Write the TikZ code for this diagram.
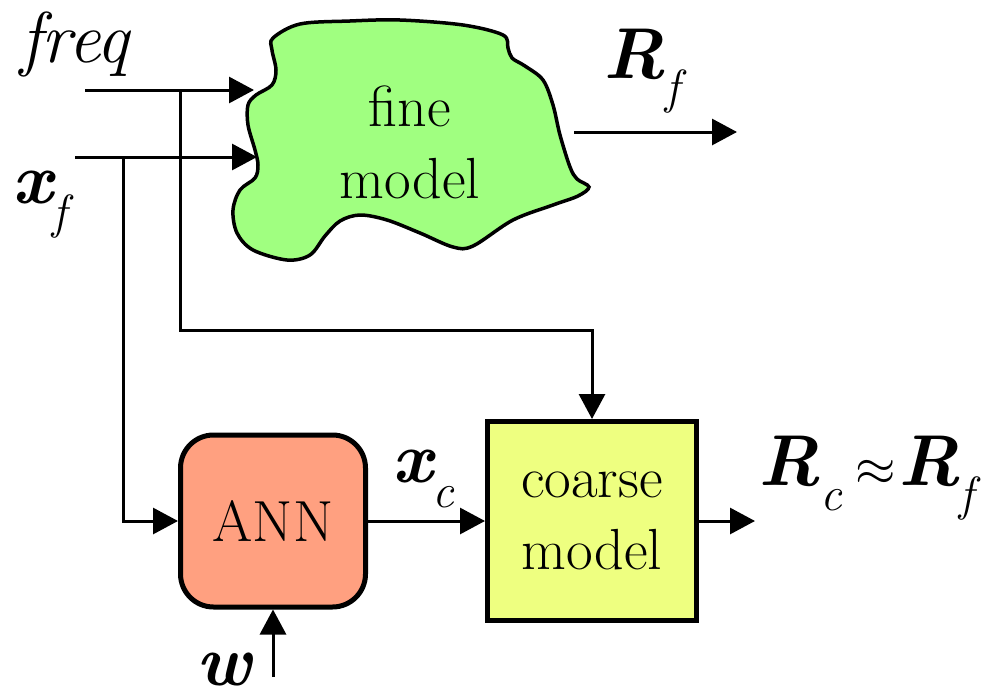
\documentclass[tikz,border=0pt]{standalone}
\usetikzlibrary{arrows.meta}
\newcommand\tms{\rmfamily}
\newcommand\bi[1]{{\tms\bfseries\itshape #1}}
\newcommand\subl[1]{\raisebox{-25pt}{\fontsize{48}{48}\tms\itshape\selectfont #1}}
\newcommand\bigapprox{\hspace{14pt}\scalebox{5.2}{\fontsize{10}{12}\selectfont$\approx$}\hspace{2pt}}
\definecolor{blobgreen}{RGB}{160,255,128}
\definecolor{annred}{RGB}{255,160,128}
\definecolor{coarseyel}{RGB}{238,255,128}
\tikzset{
  arr/.style={line width=3pt,-{Triangle[length=25pt,width=26pt]}},
  lbl/.style={inner sep=0pt,anchor=base west,font=\tms\fontsize{72}{80}\selectfont},
  body/.style={font=\tms\fontsize{58}{72}\selectfont,align=center,inner sep=0pt},
  boxstyle/.style={draw,line width=5pt,inner sep=0pt,body},
}
\begin{document}
\begin{tikzpicture}[x=1pt,y=-1pt]
\useasboundingbox (0,0) rectangle (986,699);
% fine model blob
\draw[line width=3.5pt,fill=blobgreen] plot[smooth cycle,tension=0.55] coordinates {
(273,38) (300,24) (350,21) (400,20) (463,25) (503,35) (508,48) (512,58) (525,66)
(543,80) (553,105) (560,135) (570,167) (577,179) (589,187) (578,196) (553,205) (513,220) (473,246)
(453,247) (420,233) (387,220) (360,215) (340,221) (325,236) (310,255) (287,260)
(253,250) (237,233) (233,210) (240,190) (255,178) (258,165) (255,150) (248,125)
(248,105) (256,95) (272,85) (276,70) (272,50)};
\node[body] (fine) at (410,142) {fine\\model};
\coordinate (fin1) at (254,90);
\coordinate (fin2) at (257,157);
\coordinate (fout) at (574,132);
\coordinate (foutE) at (737,132);
% boxes
\node[boxstyle,fill=annred,rounded corners=33pt,minimum width=185pt,minimum height=172pt] (ann) at (273,521) {ANN};
\node[boxstyle,fill=coarseyel,minimum width=209pt,minimum height=199pt] (coarse) at (592,521) {coarse\\model};
% labels
\node[lbl] (freq) at (20,62) {\itshape freq};
\node[lbl] (xf) at (12,203) {\bi{x}\subl{f}};
\node[lbl] (Rf) at (603,78) {\bi{R}\subl{f}};
\node[lbl] (xc) at (392,482) {\bi{x}\subl{c}};
\node[lbl] (w) at (196,685) {\bi{w}};
\node[lbl] (Rcf) at (758,485) {\bi{R}\subl{c}\bigapprox\bi{R}\subl{f}};
% connectors
\coordinate (freqS) at (85,90);
\coordinate (xfS) at (75,157);
\coordinate (fj) at (180,90);
\coordinate (xj) at (123,157);
\coordinate (fk) at (592,330);
\coordinate (wS) at (273,677);
\coordinate (outE) at (755,521);
\draw[arr] (freqS) -- (fin1);
\draw[arr] (xfS) -- (fin2);
\draw[arr] (fj) |- (fk) -- (coarse.north);
\draw[arr] (xj) |- (ann.west);
\draw[arr] (ann.east) -- (coarse.west);
\draw[arr] (wS) -- (ann.south);
\draw[arr] (coarse.east) -- (outE);
\draw[arr] (fout) -- (foutE);
\end{tikzpicture}
\end{document}
